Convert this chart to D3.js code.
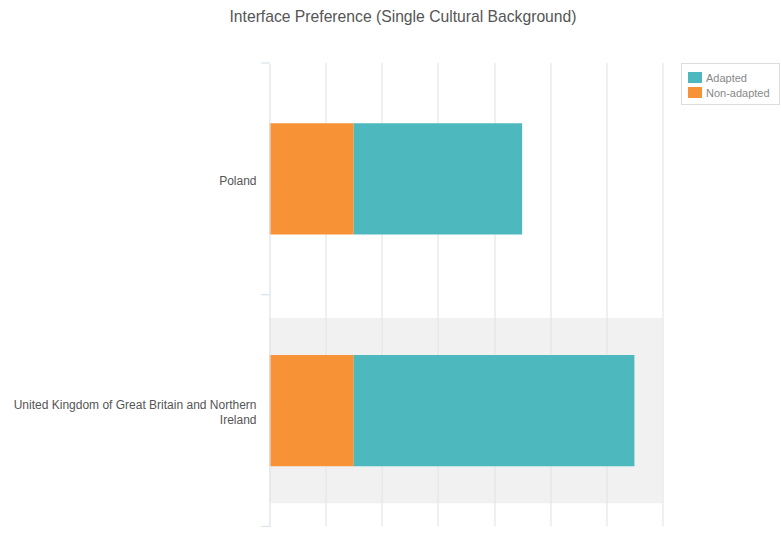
<!DOCTYPE html>
<html>
<head>
<meta charset="utf-8">
<script src="https://cdn.jsdelivr.net/npm/d3@7/dist/d3.min.js"></script>
<style>
  html, body { margin: 0; padding: 0; background: #fff; }
  svg { display: block; font-family: "Helvetica Neue", Helvetica, Arial, "Liberation Sans", sans-serif; }
</style>
</head>
<body>
<svg id="chart" width="781" height="536"></svg>
<script>
// Countries (one bar each)
const categories = ["Poland", "United Kingdom of Great Britain and Northern Ireland"];
// Stacked series, drawn left to right: Non-adapted first, then Adapted
const seriesNames = ["Non-adapted", "Adapted"];
const nonAdapted = [3, 3];
const adapted = [6, 10];
const xMax = 14;
const xTicks = [0, 2, 4, 6, 8, 10, 12, 14];
const colors = { "Adapted": "#4db8be", "Non-adapted": "#f89236" };
const legendOrder = ["Adapted", "Non-adapted"];

const svg = d3.select("#chart");
const margin = { top: 63, left: 269.5, right: 118.5, bottom: 9.5 };
const W = 781, H = 536;
const plotW = W - margin.left - margin.right;
const plotH = H - margin.top - margin.bottom;

const x = d3.scaleLinear().domain([0, xMax]).range([0, plotW]);
const y = d3.scaleBand().domain(categories).range([0, plotH]);

// Title
svg.append("text")
  .attr("x", 403).attr("y", 22)
  .attr("text-anchor", "middle")
  .attr("font-size", 15.7)
  .attr("fill", "#555")
  .text("Interface Preference (Single Cultural Background)");

const g = svg.append("g").attr("transform", `translate(${margin.left},${margin.top})`);

// Alternate row shading
g.selectAll("rect.stripe")
  .data(categories.filter((d, i) => i % 2 === 1))
  .join("rect")
  .attr("class", "stripe")
  .attr("x", 0)
  .attr("width", x(xMax))
  .attr("y", d => y(d) + y.bandwidth() * 0.1)
  .attr("height", y.bandwidth() * 0.8)
  .attr("fill", "#f1f1f1");

// Vertical grid lines
g.append("g")
  .selectAll("line")
  .data(xTicks.filter(t => t > 0))
  .join("line")
  .attr("x1", d => Math.round(x(d)) + 0.5)
  .attr("x2", d => Math.round(x(d)) + 0.5)
  .attr("y1", 0).attr("y2", plotH)
  .attr("stroke", "#e6e6e6")
  .attr("stroke-width", 1.2);

// Stacked bars
const rows = categories.map((c, i) => ({ category: c, "Non-adapted": nonAdapted[i], "Adapted": adapted[i] }));
const stack = d3.stack().keys(seriesNames)(rows);
const barH = y.bandwidth() * 0.48;

g.selectAll("g.series")
  .data(stack)
  .join("g")
  .attr("class", "series")
  .attr("fill", d => colors[d.key])
  .selectAll("rect")
  .data(d => d)
  .join("rect")
  .attr("x", d => x(d[0]))
  .attr("width", d => x(d[1]) - x(d[0]))
  .attr("y", d => y(d.data.category) + (y.bandwidth() - barH) / 2)
  .attr("height", barH);

// Left category axis
const axis = g.append("g")
  .call(d3.axisLeft(y).tickSize(0).tickFormat(""));
axis.select(".domain").attr("stroke", "#dbe3ec").attr("stroke-width", 1.2);

// Band boundary ticks
const bounds = [0, ...categories.map(c => y(c) + y.bandwidth())];
g.append("g").selectAll("line")
  .data(bounds)
  .join("line")
  .attr("x1", -8.5).attr("x2", 0)
  .attr("y1", d => d).attr("y2", d => d)
  .attr("stroke", "#dbe3ec")
  .attr("stroke-width", 1.2);

// Category labels, wrapped to fit the left margin
const maxLabelW = 250;
categories.forEach(c => {
  const t = g.append("text")
    .attr("text-anchor", "end")
    .attr("font-size", 12)
    .attr("fill", "#555")
    .attr("x", -13);
  const words = c.split(" ");
  const lines = [];
  let line = [];
  const probe = t.append("tspan");
  words.forEach(w => {
    line.push(w);
    probe.text(line.join(" "));
    if (probe.node().getComputedTextLength() > maxLabelW && line.length > 1) {
      line.pop();
      lines.push(line.join(" "));
      line = [w];
    }
  });
  lines.push(line.join(" "));
  probe.remove();
  const lh = 15;
  const cy = y(c) + y.bandwidth() / 2;
  lines.forEach((l, i) => {
    t.append("tspan")
      .attr("x", -13)
      .attr("y", cy + (i - (lines.length - 1) / 2) * lh + 6)
      .text(l);
  });
});

// Legend
const lg = svg.append("g").attr("transform", "translate(681,63)");
lg.append("rect")
  .attr("x", 0.5).attr("y", 0.5)
  .attr("width", 98).attr("height", 41)
  .attr("fill", "#fff")
  .attr("stroke", "#dddddd");
legendOrder.forEach((k, i) => {
  lg.append("rect")
    .attr("x", 7).attr("y", 9 + i * 15)
    .attr("width", 14).attr("height", 11)
    .attr("fill", colors[k]);
  lg.append("text")
    .attr("x", 25).attr("y", 18.5 + i * 15)
    .attr("font-size", 11)
    .attr("fill", "#888")
    .text(k);
});
</script>
</body>
</html>
